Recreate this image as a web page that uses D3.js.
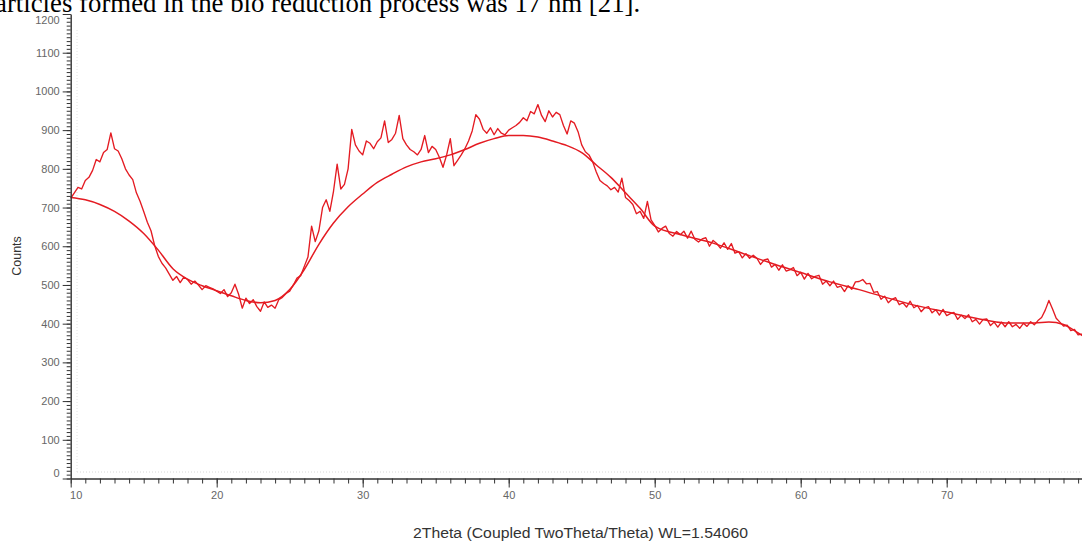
<!DOCTYPE html>
<html lang="en">
<head>
    <meta charset="UTF-8">
    <title>XRD pattern</title>
    <script src="https://cdn.jsdelivr.net/npm/d3@7"></script>
    <style>
        body { margin: 0; background: #fff; }
        .tick text {
            font-family: Arial, "Liberation Sans", sans-serif;
            font-size: 11px;
            fill: #666;
        }
        .axis path, .axis line { stroke: #333; }
    </style>
</head>
<body>
    <script>
        const width = 1082;
        const height = 541;

        // measured pattern, one value every 0.25 deg starting at 10 deg
        const rawStart = 10;
        const rawStep = 0.25;
        const rawCounts = [
            724, 738, 752, 748, 770, 778, 796, 824, 818, 842, 850, 893,
            852, 846, 826, 800, 784, 772, 738, 716, 690, 662, 640, 602,
            574, 556, 544, 528, 512, 522, 506, 520, 514, 502, 510, 500,
            488, 498, 494, 490, 484, 478, 488, 470, 480, 502, 476, 440,
            466, 452, 462, 444, 432, 456, 442, 448, 440, 462, 468, 478,
            484, 500, 518, 524, 548, 572, 652, 612, 640, 700, 720, 690,
            742, 812, 748, 760, 800, 902, 862, 846, 836, 872, 866, 852,
            870, 880, 924, 868, 876, 892, 938, 878, 862, 850, 844, 836,
            850, 886, 842, 858, 850, 830, 804, 836, 878, 808, 822, 836,
            852, 872, 898, 940, 928, 902, 892, 906, 888, 904, 892, 888,
            900, 906, 912, 920, 932, 924, 948, 942, 966, 938, 922, 950,
            934, 946, 940, 912, 890, 924, 918, 896, 862, 844, 836, 818,
            792, 770, 762, 756, 746, 752, 740, 776, 726, 718, 708, 684,
            690, 672, 716, 668,
            654, 637, 646, 652, 633, 626, 638, 630, 639, 621, 639, 618,
            611, 619, 622, 600, 615, 607, 595, 609, 592, 607, 582, 586,
            570, 581, 569, 577, 569, 553, 565, 567, 546, 553, 538, 552,
            536, 539, 545, 524, 533, 515, 530, 516, 522, 525, 502, 510,
            498, 510, 494, 497, 483, 498, 489, 508, 509, 514, 503, 504,
            481, 483, 463, 471, 454, 463, 467, 449, 454, 443, 458, 441,
            447, 431, 441, 444, 428, 436, 422, 437, 421, 426, 429, 411,
            422, 413, 423, 405, 411, 399, 411, 412, 395, 404, 391, 404,
            392, 405, 392, 398, 388, 401, 393, 405, 397, 408, 416, 435,
            460, 438, 414, 404, 394, 396, 382, 385, 371, 373, 362
        ];

        // fitted background
        const bgTheta = [10, 11, 12, 13, 14, 15, 16, 17, 18, 19, 20, 21, 22, 23, 24, 25, 26, 27, 28, 29,
            30, 31, 32, 33, 34, 35, 36, 37, 38, 39, 40, 41, 42, 43, 44, 45, 46, 47, 48, 49,
            50, 52, 54, 56, 58, 60, 62, 64, 66, 68, 70, 72, 74, 76, 77, 78, 79, 80];
        const bgCounts = [726, 720, 708, 690, 665, 633, 590, 542, 515, 498, 485, 472, 460, 454, 460, 488, 540, 605, 660, 702,
            735, 765, 786, 805, 818, 826, 836, 850, 866, 878, 886, 886, 882, 872, 860, 842, 810, 778, 738, 698,
            652, 628, 608, 582, 556, 532, 508, 488, 466, 446, 430, 414, 402, 402, 404, 398, 376, 352];

        const xMajor = [10, 20, 30, 40, 50, 60, 70];
        const xMinor = d3.range(10, 81, 1);
        const yMajor = [0, 100, 200, 300, 400, 500, 600, 700, 800, 900, 1000, 1100, 1200];
        const yMinor = d3.range(0, 1201, 10);

        const lineColor = "#e41b22";

        const svg = d3.select("body")
            .append("svg")
            .attr("width", width)
            .attr("height", height);

        const xScale = d3.scaleLinear()
            .domain([10, 80])
            .range([70.7, 1092.7]);

        const yScale = d3.scaleLinear()
            .domain([0, 1200])
            .range([478.5, 14]);

        // sentence from the page above the figure, cut off at the top
        svg.append("text")
            .attr("x", -5)
            .attr("y", 11.5)
            .style("font-family", "'Liberation Serif', 'Times New Roman', serif")
            .style("font-size", "26.8px")
            .style("fill", "#000")
            .text("articles formed in the bio reduction process was 17 nm [21].");

        // faint dotted frame of the plot area
        svg.append("line")
            .attr("x1", 77).attr("x2", width)
            .attr("y1", 472).attr("y2", 472)
            .style("stroke", "#d8d8d8")
            .style("stroke-dasharray", "1,2");
        svg.append("line")
            .attr("x1", 77).attr("x2", 77)
            .attr("y1", 30).attr("y2", 472)
            .style("stroke", "#e2e2e2")
            .style("stroke-dasharray", "1,2");

        const plot = svg.append("g");

        const rawData = rawCounts.map((c, i) => ({ t: rawStart + i * rawStep, c: c }));
        const bgData = bgTheta.map((t, i) => ({ t: t, c: bgCounts[i] }));

        const line = d3.line()
            .x(d => xScale(d.t))
            .y(d => yScale(d.c));

        plot.append("path")
            .datum(bgData)
            .attr("d", line.curve(d3.curveMonotoneX))
            .style("fill", "none")
            .style("stroke", lineColor)
            .style("stroke-width", 1.5);

        plot.append("path")
            .datum(rawData)
            .attr("d", line.curve(d3.curveLinear))
            .style("fill", "none")
            .style("stroke", lineColor)
            .style("stroke-width", 1.35)
            .style("stroke-linejoin", "round");

        // x axis
        svg.append("g")
            .attr("class", "axis")
            .attr("transform", `translate(0,${yScale(0)})`)
            .call(d3.axisBottom(xScale).tickValues(xMinor).tickSize(5).tickSizeOuter(0).tickFormat(""))
            .call(g => g.select(".domain").style("stroke-width", 1.4));

        svg.append("g")
            .attr("class", "axis")
            .attr("transform", `translate(0,${yScale(0)})`)
            .call(d3.axisBottom(xScale).tickValues(xMajor).tickSize(9).tickPadding(4).tickSizeOuter(0).tickFormat(d3.format("d")))
            .call(g => g.select(".domain").remove())
            .call(g => g.selectAll(".tick text").filter(d => d === 10).attr("dx", 5));

        // y axis
        svg.append("g")
            .attr("class", "axis")
            .attr("transform", `translate(${xScale(10)},0)`)
            .call(d3.axisLeft(yScale).tickValues(yMinor).tickSize(4).tickSizeOuter(0).tickFormat(""))
            .call(g => g.select(".domain").style("stroke-width", 1.4));

        svg.append("g")
            .attr("class", "axis")
            .attr("transform", `translate(${xScale(10)},0)`)
            .call(d3.axisLeft(yScale).tickValues(yMajor).tickSize(8).tickPadding(3).tickSizeOuter(0).tickFormat(d3.format("d")))
            .call(g => g.select(".domain").remove())
            .call(g => g.selectAll(".tick text").filter(d => d === 0).attr("dy", "-0.15em"))
            .call(g => g.selectAll(".tick text").filter(d => d === 1200).attr("dy", "0.9em"));

        // axis titles
        svg.append("text")
            .attr("transform", "translate(21,256) rotate(-90)")
            .attr("text-anchor", "middle")
            .style("font-family", "Arial, 'Liberation Sans', sans-serif")
            .style("font-size", "12.5px")
            .style("fill", "#333")
            .text("Counts");

        svg.append("text")
            .attr("x", 413)
            .attr("y", 538)
            .attr("textLength", 335)
            .attr("lengthAdjust", "spacingAndGlyphs")
            .style("font-family", "Arial, 'Liberation Sans', sans-serif")
            .style("font-size", "14px")
            .style("fill", "#333")
            .text("2Theta (Coupled TwoTheta/Theta) WL=1.54060");
    </script>
</body>
</html>
